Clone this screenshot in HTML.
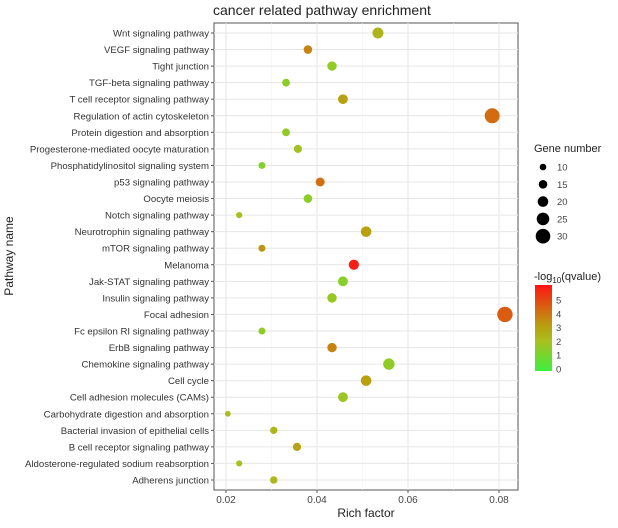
<!DOCTYPE html>
<html><head><meta charset="utf-8"><style>
body{margin:0;background:#fff;font-family:"Liberation Sans",Arial,sans-serif}
svg text{font-family:"Liberation Sans",Arial,sans-serif}
</style></head><body>
<svg id="c" width="618" height="523" xmlns="http://www.w3.org/2000/svg">
<defs><linearGradient id="cb" x1="0" y1="1" x2="0" y2="0">
<stop offset="0" stop-color="#3cf03c"/><stop offset="0.34" stop-color="#a8c020"/><stop offset="0.52" stop-color="#b8a010"/><stop offset="0.69" stop-color="#d07010"/><stop offset="1" stop-color="#ff1414"/></linearGradient></defs>
<text x="213" y="15" font-size="14" fill="#222">cancer related pathway enrichment</text>
<rect x="214" y="23" width="304" height="467" fill="#fff" stroke="#555" stroke-width="1"/>
<g id="grid"></g><g id="ylab"></g><g id="xlab"></g><g id="pts"></g>
<text x="366" y="517" font-size="12" fill="#222" text-anchor="middle">Rich factor</text>
<text transform="translate(13,256) rotate(-90)" font-size="12" fill="#222" text-anchor="middle">Pathway name</text>
<text x="534" y="152" font-size="11" fill="#222">Gene number</text>
<g id="sleg"></g>
<text x="534" y="280" font-size="11" fill="#222">-log<tspan font-size="8" dy="3">10</tspan><tspan dy="-3">(qvalue)</tspan></text>
<rect x="535" y="285" width="17" height="86" fill="url(#cb)"/>
<g id="cleg"></g>
</svg>
<script>
const pathways=["Wnt signaling pathway","VEGF signaling pathway","Tight junction","TGF-beta signaling pathway","T cell receptor signaling pathway","Regulation of actin cytoskeleton","Protein digestion and absorption","Progesterone-mediated oocyte maturation","Phosphatidylinositol signaling system","p53 signaling pathway","Oocyte meiosis","Notch signaling pathway","Neurotrophin signaling pathway","mTOR signaling pathway","Melanoma","Jak-STAT signaling pathway","Insulin signaling pathway","Focal adhesion","Fc epsilon RI signaling pathway","ErbB signaling pathway","Chemokine signaling pathway","Cell cycle","Cell adhesion molecules (CAMs)","Carbohydrate digestion and absorption","Bacterial invasion of epithelial cells","B cell receptor signaling pathway","Aldosterone-regulated sodium reabsorption","Adherens junction"];
const richFactor=[0.0534,0.038,0.0433,0.0332,0.0457,0.0785,0.0332,0.0358,0.0279,0.0407,0.038,0.0229,0.0508,0.0279,0.0481,0.0457,0.0433,0.0813,0.0279,0.0433,0.0558,0.0508,0.0457,0.0204,0.0305,0.0356,0.0229,0.0305];
const geneNumber=[21,15,17,13,18,31,13,14,11,16,15,9,20,11,19,18,17,32,11,17,22,20,18,8,12,14,9,12];
const negLogQ=[2.4,3.6,1.6,1.5,3.0,4.1,1.6,1.9,1.3,4.0,1.5,2.1,3.0,3.2,5.6,1.4,1.7,4.4,1.6,3.6,1.6,3.0,1.8,2.1,2.3,2.9,2.0,2.3];
const xTicks=[0.02,0.04,0.06,0.08];
const sizeLegend=[10,15,20,25,30];
const colorTicks=[0,1,2,3,4,5];
const NS="http://www.w3.org/2000/svg";
const X=v=>226+(v-0.02)*4550;
const Y=i=>33+i*16.555;
const R=n=>1.3+0.2*n;
const CB=v=>369-v*13.8;
const stops=[[0,[60,240,60]],[2,[168,192,32]],[3,[184,160,16]],[4,[208,112,16]],[5.8,[255,20,20]]];
function col(v){for(let i=1;i<stops.length;i++){if(v<=stops[i][0]||i==stops.length-1){const a=stops[i-1],b=stops[i];let t=Math.max(0,Math.min(1,(v-a[0])/(b[0]-a[0])));return`rgb(${a[1].map((c,k)=>Math.round(c+(b[1][k]-c)*t)).join(',')})`;}}}
function mk(t,at,p){const e=document.createElementNS(NS,t);for(const k in at)e.setAttribute(k,at[k]);p.appendChild(e);return e;}
const g=document.getElementById('grid'),yl=document.getElementById('ylab'),xl=document.getElementById('xlab'),pts=document.getElementById('pts');
xTicks.forEach((t,i)=>{const x=X(t);
 const ln=mk('line',{x1:x,x2:x,y1:23,y2:490,stroke:'#e6e6e6','stroke-width':1},g);
 
 
 const xm=X(t+0.01);if(xm<518){const m=mk('line',{x1:xm,x2:xm,y1:23,y2:490,stroke:'#f2f2f2','stroke-width':0.6},g);
 
 }
 const tk=mk('line',{x1:x,x2:x,y1:490,y2:493,stroke:'#555'},xl);
 
 
 const tx=mk('text',{x:x,y:503,'font-size':10,fill:'#444','text-anchor':'middle'},xl);tx.textContent=t.toFixed(2);
 
 
});
pathways.forEach((p,i)=>{const y=Y(i);
 const ln=mk('line',{x1:214,x2:518,y1:y,y2:y,stroke:'#e6e6e6','stroke-width':1},g);
 
 
 const tk=mk('line',{x1:211,x2:214,y1:y,y2:y,stroke:'#555'},yl);
 
 
 const tx=mk('text',{x:209,y:y+3.5,'font-size':9.6,fill:'#333','text-anchor':'end'},yl);tx.textContent=p;
 
 
 const c=mk('circle',{cx:X(richFactor[i]),cy:y,r:R(geneNumber[i]),fill:col(negLogQ[i])},pts);
 
 
});
const sl=document.getElementById('sleg');
sizeLegend.forEach((n,i)=>{const y=167+i*17.3;
 const c=mk('circle',{cx:543,cy:y,r:R(n),fill:'#000'},sl);
 
 
 const t=mk('text',{x:557,y:y+3.5,'font-size':9.5,fill:'#444'},sl);t.textContent=n;
 
 
});
const cl=document.getElementById('cleg');
colorTicks.forEach(v=>{const y=CB(v);
 const t=mk('text',{x:556,y:y+3.5,'font-size':9.5,fill:'#444'},cl);t.textContent=v;
 
 
});
</script>
</body></html>
